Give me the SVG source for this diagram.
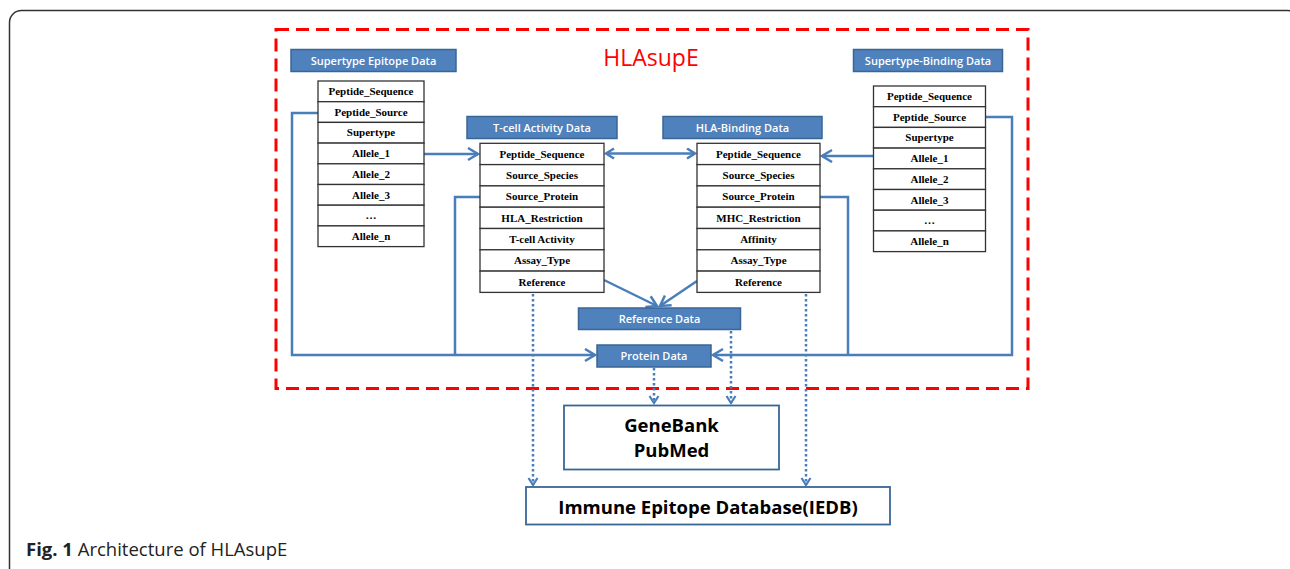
<svg xmlns="http://www.w3.org/2000/svg" width="1290" height="569" viewBox="0 0 1290 569">
<defs>
<style>
.frame{fill:#fff;stroke:#333;stroke-width:1.5}
.dash{fill:none;stroke:#ff0000;stroke-width:3;stroke-dasharray:13 7}
.hdr rect{fill:#4f81bd;stroke:#3a6696;stroke-width:1.5}
.hdr text{fill:#fff;font-family:"Open Sans","Noto Sans",sans-serif;font-weight:600;font-size:11px;text-anchor:middle}
.tbl rect{fill:#fff;stroke:#333;stroke-width:1.3}
.tbl text{fill:#000;font-family:"Liberation Serif",serif;font-weight:bold;font-size:11px;text-anchor:middle}
.con{fill:none;stroke:#4a7ebb;stroke-width:2.5}
.dot{fill:none;stroke:#4a7ebb;stroke-width:2.5;stroke-dasharray:2.5 2.5}
.box{fill:#fff;stroke:#3a6696;stroke-width:1.8}
.big{fill:#000;font-family:"Open Sans","Noto Sans",sans-serif;font-weight:bold;text-anchor:middle}
</style>
<marker id="arr" markerUnits="userSpaceOnUse" markerWidth="16" markerHeight="16" refX="11" refY="7" orient="auto">
<path d="M1,1 L11,7 L1,13" fill="none" stroke="#4a7ebb" stroke-width="2.5"/>
</marker>
<marker id="arrs" markerUnits="userSpaceOnUse" markerWidth="14" markerHeight="14" refX="9" refY="6" orient="auto-start-reverse">
<path d="M1,1 L9,6 L1,11" fill="none" stroke="#4a7ebb" stroke-width="2.5"/>
</marker>
<marker id="arrd" markerUnits="userSpaceOnUse" markerWidth="14" markerHeight="14" refX="8" refY="6" orient="auto">
<path d="M1,1.5 L8,6 L1,10.5" fill="none" stroke="#4a7ebb" stroke-width="2.2"/>
</marker>
</defs>
<rect class="frame" x="9.5" y="10.5" width="1290" height="600" rx="12"/>
<rect class="dash" x="276" y="29.5" width="752" height="359"/>
<text x="651" y="66" font-family="Open Sans, Noto Sans, sans-serif" font-size="23" fill="#ff0000" text-anchor="middle">HLAsupE</text>

<g id="connectors">
<polyline class="con" points="318,113 292,113 292,355 595,355" marker-end="url(#arr)"/>
<polyline class="con" points="480,197 455,197 455,355"/>
<line class="con" x1="424" y1="154" x2="478" y2="154" marker-end="url(#arr)"/>
<line class="con" x1="606" y1="153.5" x2="695" y2="153.5" marker-start="url(#arrs)" marker-end="url(#arrs)"/>
<line class="con" x1="873" y1="156" x2="822" y2="156" marker-end="url(#arr)"/>
<polyline class="con" points="986,117 1012,117 1012,355 713,355" marker-end="url(#arr)"/>
<polyline class="con" points="820,197 848,197 848,355"/>
<line class="con" x1="604" y1="280" x2="657" y2="306" marker-end="url(#arr)"/>
<line class="con" x1="697" y1="281" x2="660" y2="306" marker-end="url(#arr)"/>
<line class="dot" x1="533" y1="294" x2="533" y2="485" marker-end="url(#arrd)"/>
<line class="dot" x1="806" y1="294" x2="806" y2="485" marker-end="url(#arrd)"/>
<line class="dot" x1="731" y1="331" x2="731" y2="403" marker-end="url(#arrd)"/>
<line class="dot" x1="654" y1="368" x2="654" y2="403" marker-end="url(#arrd)"/>
</g>

<g id="supertype-epitope-data">
<g class="hdr"><rect x="291" y="49.5" width="165" height="22"/><text x="373.5" y="64.5">Supertype Epitope Data</text></g>
<g class="tbl">
<rect x="318" y="81" width="106" height="20.7"/><text x="371" y="95">Peptide_Sequence</text>
<rect x="318" y="101.7" width="106" height="20.7"/><text x="371" y="115.7">Peptide_Source</text>
<rect x="318" y="122.4" width="106" height="20.7"/><text x="371" y="136.4">Supertype</text>
<rect x="318" y="143.1" width="106" height="20.7"/><text x="371" y="157.1">Allele_1</text>
<rect x="318" y="163.8" width="106" height="20.7"/><text x="371" y="177.8">Allele_2</text>
<rect x="318" y="184.5" width="106" height="20.7"/><text x="371" y="198.5">Allele_3</text>
<rect x="318" y="205.2" width="106" height="20.7"/><text x="371" y="219.2">…</text>
<rect x="318" y="225.9" width="106" height="20.7"/><text x="371" y="239.9">Allele_n</text>
</g>
</g>

<g id="supertype-binding-data">
<g class="hdr"><rect x="853.5" y="49.5" width="149" height="22"/><text x="928" y="64.5">Supertype-Binding Data</text></g>
<g class="tbl">
<rect x="873.5" y="86" width="112" height="20.7"/><text x="929.5" y="100">Peptide_Sequence</text>
<rect x="873.5" y="106.7" width="112" height="20.7"/><text x="929.5" y="120.7">Peptide_Source</text>
<rect x="873.5" y="127.4" width="112" height="20.7"/><text x="929.5" y="141.4">Supertype</text>
<rect x="873.5" y="148.1" width="112" height="20.7"/><text x="929.5" y="162.1">Allele_1</text>
<rect x="873.5" y="168.8" width="112" height="20.7"/><text x="929.5" y="182.8">Allele_2</text>
<rect x="873.5" y="189.5" width="112" height="20.7"/><text x="929.5" y="203.5">Allele_3</text>
<rect x="873.5" y="210.2" width="112" height="20.7"/><text x="929.5" y="224.2">…</text>
<rect x="873.5" y="230.9" width="112" height="20.7"/><text x="929.5" y="244.9">Allele_n</text>
</g>
</g>

<g id="tcell-activity-data">
<g class="hdr"><rect x="467" y="116.5" width="150" height="22"/><text x="542" y="131.5">T-cell Activity Data</text></g>
<g class="tbl">
<rect x="480" y="143.3" width="124" height="21.3"/><text x="542" y="157.7">Peptide_Sequence</text>
<rect x="480" y="164.6" width="124" height="21.3"/><text x="542" y="179">Source_Species</text>
<rect x="480" y="185.9" width="124" height="21.3"/><text x="542" y="200.3">Source_Protein</text>
<rect x="480" y="207.2" width="124" height="21.3"/><text x="542" y="221.6">HLA_Restriction</text>
<rect x="480" y="228.5" width="124" height="21.3"/><text x="542" y="242.9">T-cell Activity</text>
<rect x="480" y="249.8" width="124" height="21.3"/><text x="542" y="264.2">Assay_Type</text>
<rect x="480" y="271.1" width="124" height="21.3"/><text x="542" y="285.5">Reference</text>
</g>
</g>

<g id="hla-binding-data">
<g class="hdr"><rect x="663" y="116.5" width="159" height="22"/><text x="742.5" y="131.5">HLA-Binding Data</text></g>
<g class="tbl">
<rect x="697" y="143.3" width="123" height="21.3"/><text x="758.5" y="157.7">Peptide_Sequence</text>
<rect x="697" y="164.6" width="123" height="21.3"/><text x="758.5" y="179">Source_Species</text>
<rect x="697" y="185.9" width="123" height="21.3"/><text x="758.5" y="200.3">Source_Protein</text>
<rect x="697" y="207.2" width="123" height="21.3"/><text x="758.5" y="221.6">MHC_Restriction</text>
<rect x="697" y="228.5" width="123" height="21.3"/><text x="758.5" y="242.9">Affinity</text>
<rect x="697" y="249.8" width="123" height="21.3"/><text x="758.5" y="264.2">Assay_Type</text>
<rect x="697" y="271.1" width="123" height="21.3"/><text x="758.5" y="285.5">Reference</text>
</g>
</g>

<g id="reference-data" class="hdr"><rect x="578.5" y="308" width="162" height="21.5"/><text x="659.5" y="323">Reference Data</text></g>
<g id="protein-data" class="hdr"><rect x="597" y="345" width="114" height="22"/><text x="654" y="360">Protein  Data</text></g>

<g id="genebank-pubmed">
<rect class="box" x="564" y="405.5" width="215" height="64"/>
<text class="big" x="671.5" y="431.5" font-size="18.5">GeneBank</text>
<text class="big" x="671.5" y="457" font-size="18.5">PubMed</text>
</g>
<g id="iedb">
<rect class="box" x="526" y="487" width="364" height="37.5"/>
<text class="big" x="708" y="513.5" font-size="18.5">Immune Epitope Database(IEDB)</text>
</g>

<text x="26" y="556" font-family="Open Sans, Noto Sans, sans-serif" font-size="18.5" fill="#222"><tspan font-weight="bold">Fig. 1</tspan> Architecture of HLAsupE</text>
</svg>
